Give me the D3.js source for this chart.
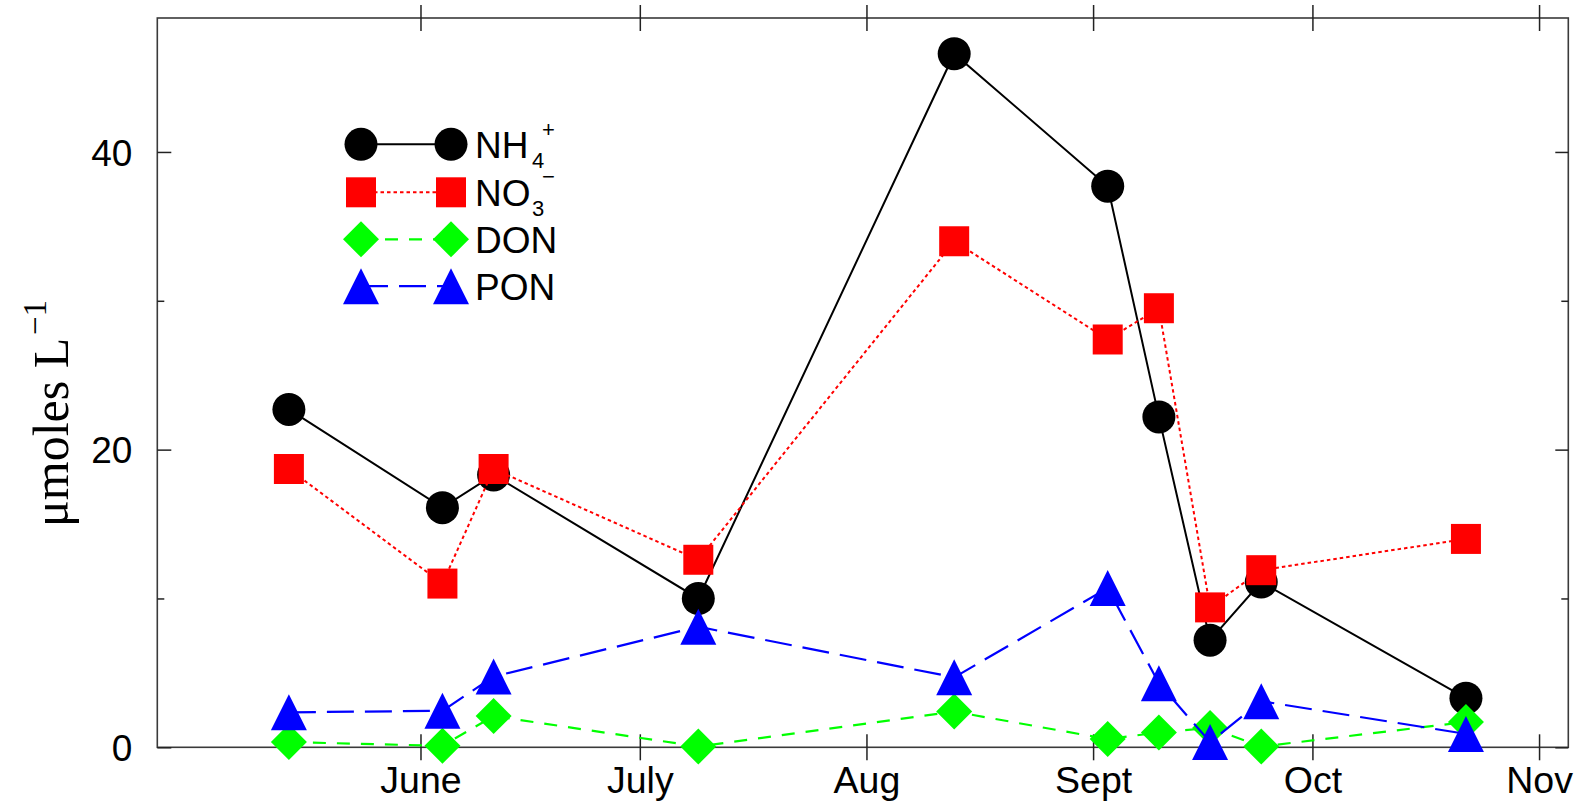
<!DOCTYPE html>
<html>
<head>
<meta charset="utf-8">
<script src="https://cdn.jsdelivr.net/npm/d3@7"></script>
<style>
  html, body { margin: 0; padding: 0; background: #fff; }
  svg { display: block; }
  text { font-family: "Liberation Sans", Arial, Helvetica, sans-serif; fill: #000; }
</style>
</head>
<body>
<svg id="chart" width="1585" height="809"></svg>
<script>
// Sampling dates and nitrogen concentrations (µmol/L)
const sampleDates = ["2001-05-14", "2001-06-04", "2001-06-11", "2001-07-09", "2001-08-13",
                     "2001-09-03", "2001-09-10", "2001-09-17", "2001-09-24", "2001-10-22"];
const nh4 = [22.7, 16.1, 18.3, 10.0, 46.6, 37.7, 22.2, 7.2, 11.1, 3.3];
const no3 = [18.7, 11.0, 18.7, 12.6, 34.0, 27.4, 29.5, 9.4, 11.9, 14.0];
const don = [0.35, 0.1, 2.1, 0.05, 2.4, 0.55, 1.0, 1.3, 0.05, 1.7];
const pon = [2.35, 2.45, 4.75, 8.1, 4.7, 10.7, 4.3, 0.35, 3.1, 0.9];

// Axis ticks
const monthTicks = ["2001-06-01", "2001-07-01", "2001-08-01", "2001-09-01", "2001-10-01", "2001-11-01"];
const monthLabels = ["June", "July", "Aug", "Sept", "Oct", "Nov"];
const yTicks = [0, 10, 20, 30, 40];
const yLabelled = [0, 20, 40];
const xDomain = ["2001-04-26", "2001-11-05"];
const yDomain = [0, 49];

const parse = d3.utcParse("%Y-%m-%d");

const series = [
  { key: "nh4", values: nh4, color: "#000000", dash: null, width: 2, symbol: "circle" },
  { key: "no3", values: no3, color: "#ff0000", dash: "3.5,3", width: 2, symbol: "square" },
  { key: "don", values: don, color: "#00ff00", dash: "13,11", width: 2.2, symbol: "diamond" },
  { key: "pon", values: pon, color: "#0000ff", dash: "27,11", width: 2.2, symbol: "triangle" }
];

const svg = d3.select("#chart");
const plotLeft = 157.3, plotRight = 1568.3, plotTop = 18, plotBottom = 747.3;

const x = d3.scaleUtc().domain(xDomain.map(parse)).range([plotLeft, plotRight]);
const y = d3.scaleLinear().domain(yDomain).range([plotBottom, plotTop]);

// Marker outlines centred on the data point
function symbolPath(type) {
  const p = d3.path();
  if (type === "circle") {
    p.arc(0, 0, 16.5, 0, 2 * Math.PI);
  } else if (type === "square") {
    p.rect(-15, -15, 30, 30);
  } else if (type === "diamond") {
    p.moveTo(0, -18); p.lineTo(18, 0); p.lineTo(0, 18); p.lineTo(-18, 0); p.closePath();
  } else {
    p.moveTo(0, -18); p.lineTo(18, 18); p.lineTo(-18, 18); p.closePath();
  }
  return p.toString();
}

// Frame
svg.append("rect")
  .attr("x", plotLeft).attr("y", plotTop)
  .attr("width", plotRight - plotLeft).attr("height", plotBottom - plotTop)
  .attr("fill", "none").attr("stroke", "#3a3a3a").attr("stroke-width", 1.6);

const monthDates = monthTicks.map(parse);

function styleAxis(g) {
  g.select(".domain").remove();
  g.selectAll(".tick line").attr("stroke", "#222").attr("stroke-width", 1.5);
}

// Bottom axis: ticks crossing the frame, month labels underneath
svg.append("g").attr("transform", `translate(0,${plotBottom})`)
  .call(d3.axisBottom(x).tickValues(monthDates).tickSize(13).tickFormat((d, i) => monthLabels[i]))
  .call(styleAxis)
  .call(g => g.selectAll("text")
    .attr("y", 45.7).attr("dy", 0)
    .style("font-size", "37.5px"));
svg.append("g").attr("transform", `translate(0,${plotBottom})`)
  .call(d3.axisTop(x).tickValues(monthDates).tickSize(13).tickFormat(""))
  .call(styleAxis);

// Top axis
svg.append("g").attr("transform", `translate(0,${plotTop})`)
  .call(d3.axisTop(x).tickValues(monthDates).tickSize(13).tickFormat(""))
  .call(styleAxis);
svg.append("g").attr("transform", `translate(0,${plotTop})`)
  .call(d3.axisBottom(x).tickValues(monthDates).tickSize(13).tickFormat(""))
  .call(styleAxis);

// Left axis: inward ticks, labels on the major ones
svg.append("g").attr("transform", `translate(${plotLeft},0)`)
  .call(d3.axisLeft(y).tickValues(yTicks).tickSize(-14).tickPadding(25)
    .tickFormat(d => yLabelled.includes(d) ? d : ""))
  .call(styleAxis)
  .call(g => g.selectAll(".tick line").filter(d => !yLabelled.includes(d)).attr("x2", 7))
  .call(g => g.selectAll("text").attr("dy", "0.36em").style("font-size", "37px"));

// Right axis
svg.append("g").attr("transform", `translate(${plotRight},0)`)
  .call(d3.axisRight(y).tickValues(yTicks).tickSize(-13).tickFormat(""))
  .call(styleAxis)
  .call(g => g.selectAll(".tick line").filter(d => !yLabelled.includes(d)).attr("x2", -7));

// Y axis title
const yTitle = svg.append("text")
  .attr("transform", "translate(68,527) rotate(-90)")
  .attr("text-anchor", "start")
  .style("font-family", '"Liberation Serif", "Times New Roman", serif')
  .style("font-size", "50px");
yTitle.append("tspan").text("\u03BCmoles L");
yTitle.append("tspan").attr("dy", "-0.66em").attr("dx", "0.08em").style("font-size", "33px").text("\u22121");

// Series: connecting line, then markers
const line = d3.line().x(d => x(d.date)).y(d => y(d.value));
series.forEach(s => {
  const pts = sampleDates.map((d, i) => ({ date: parse(d), value: s.values[i] }));
  const g = svg.append("g").attr("class", "series-" + s.key);
  g.append("path")
    .datum(pts)
    .attr("d", line)
    .attr("fill", "none")
    .attr("stroke", s.color)
    .attr("stroke-width", s.width)
    .attr("stroke-dasharray", s.dash);
  g.selectAll("path.marker")
    .data(pts)
    .join("path")
    .attr("class", "marker")
    .attr("transform", d => `translate(${x(d.date)},${y(d.value)})`)
    .attr("d", symbolPath(s.symbol))
    .attr("fill", s.color);
});

// Legend: sample line between two markers, chemical label with
// stacked subscript / superscript
const legendRows = [
  { key: "nh4", main: "NH", sub: "4", sup: "+" },
  { key: "no3", main: "NO", sub: "3", sup: "\u2212" },
  { key: "don", main: "DON" },
  { key: "pon", main: "PON" }
];
const legendY = [144.3, 192.3, 239.3, 286.2];
const legend = svg.append("g").attr("class", "legend");
legendRows.forEach((r, i) => {
  const s = series.find(d => d.key === r.key);
  const cy = legendY[i];
  const g = legend.append("g");
  g.append("line")
    .attr("x1", 361).attr("x2", 451).attr("y1", cy).attr("y2", cy)
    .attr("stroke", s.color).attr("stroke-width", s.width)
    .attr("stroke-dasharray", s.dash);
  [361, 451].forEach(cx => {
    g.append("path")
      .attr("transform", `translate(${cx},${cy})`)
      .attr("d", symbolPath(s.symbol))
      .attr("fill", s.color);
  });
  g.append("text").attr("x", 475).attr("y", cy + 13.5)
    .style("font-size", "37px").text(r.main);
  if (r.sub) {
    g.append("text").attr("x", 532).attr("y", cy + 24)
      .style("font-size", "22px").text(r.sub);
    g.append("text").attr("x", 542).attr("y", cy - (r.sup === "+" ? 7.5 : 8.5))
      .style("font-size", "22px").text(r.sup);
  }
});
</script>
</body>
</html>
